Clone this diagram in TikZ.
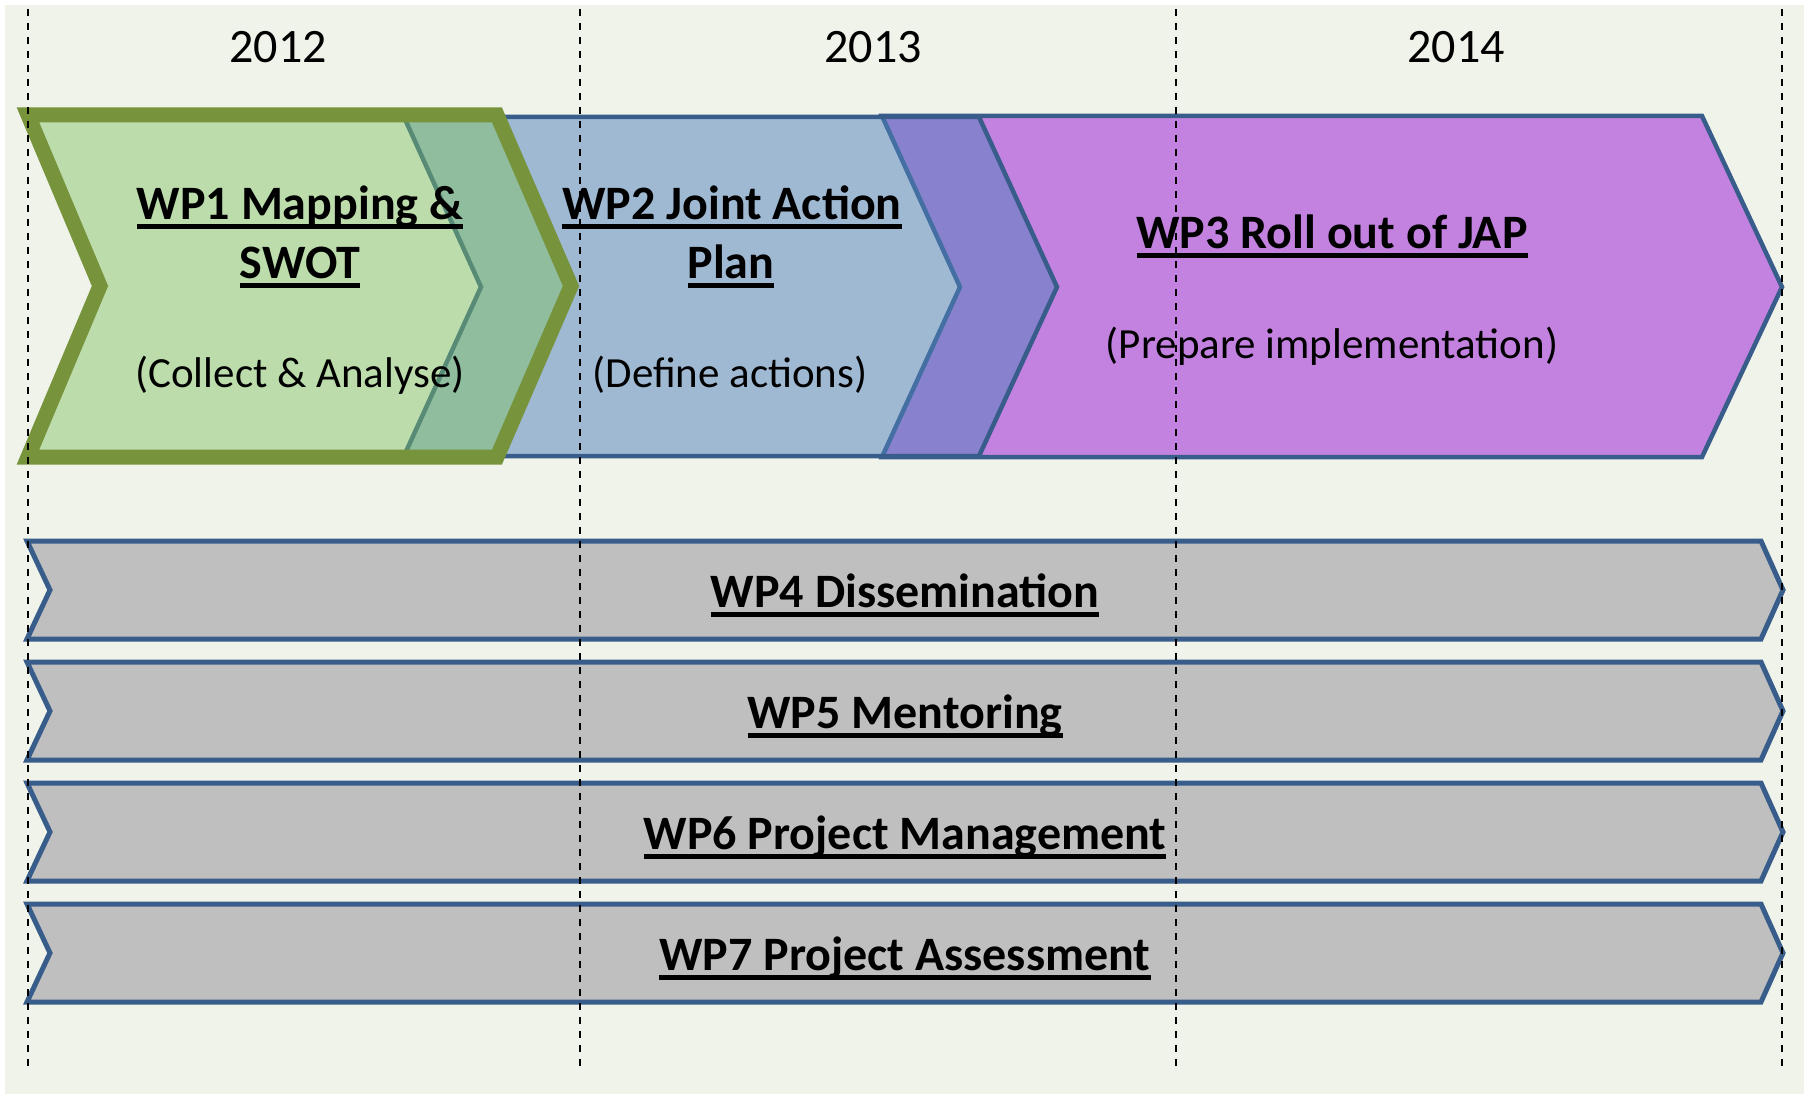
\documentclass[tikz,border=0pt]{standalone}
\usepackage{fontspec}
\setmainfont{Carlito}
\definecolor{pagebg}{RGB}{240,243,234}
\definecolor{wpblue}{RGB}{79,129,189}
\definecolor{wpedge}{RGB}{56,93,138}
\definecolor{wpgreen}{RGB}{125,195,95}
\definecolor{wpgreenedge}{RGB}{119,147,60}
\definecolor{wpviolet}{RGB}{195,130,224}
\definecolor{wpgrey}{RGB}{191,191,191}
\newcommand{\wpline}[1]{\setbox0=\hbox{#1}\rlap{\vrule width\wd0 height -5pt depth 9.5pt}\box0}
\tikzset{
  wptitle/.style={font=\fontsize{48}{59}\selectfont\bfseries, anchor=base, inner sep=0pt},
  wpsub/.style={font=\fontsize{43}{50}\selectfont, anchor=base, inner sep=0pt},
  yearlabel/.style={font=\fontsize{48}{58}\selectfont, anchor=base, inner sep=0pt},
  yearline/.style={line width=2pt, dash pattern=on 7pt off 7pt},
  barshape/.style={fill=wpgrey, draw=wpedge, line width=5pt}
}

\begin{document}
\begin{tikzpicture}[x=1pt,y=-1pt]
	\useasboundingbox (0,0) rectangle (1804,1094);
	\fill[white] (0,0) rectangle (1804,1094);
	\fill[pagebg] (5,5) rectangle (1804,1094);

	% years
	\node[yearlabel] (y2012) at (278,63) {2012};
	\node[yearlabel] (y2013) at (873,63) {2013};
	\node[yearlabel] (y2014) at (1456,63) {2014};

	% work packages 1-3
	\draw[fill=wpviolet, draw=wpedge, line width=4.5pt] (882,116) -- (1702,116) -- (1782,287) -- (1702,457) -- (882,457) -- (960,287) -- cycle;
	\draw[fill=wpblue, fill opacity=0.5, draw=wpedge, line width=4.5pt] (404,117) -- (979,117) -- (1057,287) -- (979,456) -- (404,456) -- (481,287) -- cycle;
	\draw[fill=wpgreen, fill opacity=0.45, draw=wpgreenedge, line width=15pt] (28,115) -- (497,115) -- (571,286) -- (497,457) -- (28,457) -- (100,286) -- cycle;

	\node[wptitle] (wp1a) at (300,219) {\wpline{WP1 Mapping \&}};
	\node[wptitle] (wp1b) at (300,278) {\wpline{SWOT}};
	\node[wpsub] (wp1c) at (300,387) {(Collect \& Analyse)};
	\node[wptitle] (wp2a) at (732,219) {\wpline{WP2 Joint Action}};
	\node[wptitle] (wp2b) at (731,278) {\wpline{Plan}};
	\node[wpsub] (wp2c) at (730,387) {(Define actions)};
	\node[wptitle] (wp3a) at (1332,248) {\wpline{WP3 Roll out of JAP}};
	\node[wpsub] (wp3b) at (1332,358) {(Prepare implementation)};

	% work packages 4-7
	\foreach \y/\name/\txt in {541/wp4/WP4 Dissemination, 662/wp5/WP5 Mentoring, 783/wp6/WP6 Project Management, 904/wp7/WP7 Project Assessment} {
		\draw[barshape] (27,\y) -- (1761,\y) -- (1783,\y+49) -- (1761,\y+98) -- (27,\y+98) -- (50,\y+49) -- cycle;
		\node[wptitle] (\name) at (905,\y+66) {\wpline{\txt}};
	}

	% year boundaries
	\foreach \x in {27.5,580,1176,1782}
		\draw[yearline] (\x,9) -- (\x,1067);
\end{tikzpicture}
\end{document}
